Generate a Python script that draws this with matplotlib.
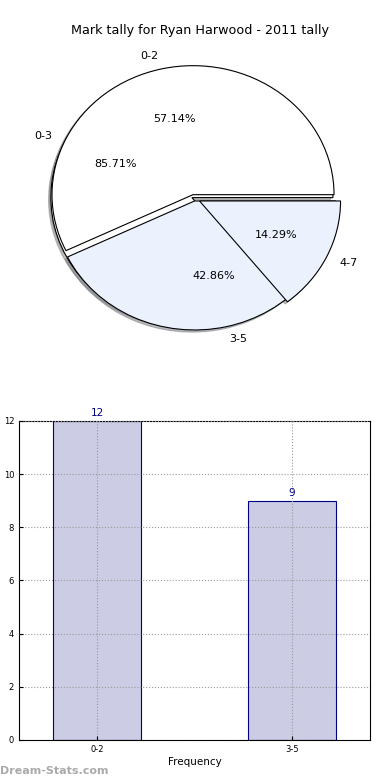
import matplotlib
matplotlib.use('Agg')
import matplotlib.pyplot as plt
import numpy as np

TITLE = 'Mark tally for Ryan Harwood - 2011 tally'

# first pie (drawn on top)
pie1_labels = ['0-2', '3-5']
pie1_sizes = [12, 9]

# second pie (drawn underneath)
pie2_labels = ['0-3', '4-7']
pie2_sizes = [6, 1]

# bar chart
bar_labels = ['0-2', '3-5']
bar_values = [12, 9]

WHITE = '#ffffff'
BLUE = '#ebf1fd'

fig = plt.figure(figsize=(3.9, 7.8), dpi=100)

ax1 = fig.add_axes([0.0596, 0.5356, 0.904, 0.4135])
ax1.set_title(TITLE, fontsize=9.2, pad=4)

wedge_kw = {'linewidth': 0.8, 'edgecolor': 'black'}
shadow_kw = {'ox': -0.012, 'oy': -0.012, 'shade': 0.5}

w2, t2, p2 = ax1.pie(pie2_sizes, labels=pie2_labels, colors=[WHITE, BLUE],
                     explode=(0.06, 0), shadow=shadow_kw, autopct='%.2f%%',
                     wedgeprops=wedge_kw, textprops={'fontsize': 8})
w1, t1, p1 = ax1.pie(pie1_sizes, labels=pie1_labels, colors=[WHITE, BLUE],
                     explode=(0.05, 0), shadow=shadow_kw, autopct='%.2f%%',
                     center=(-0.035, 0), frame=False,
                     wedgeprops=wedge_kw, textprops={'fontsize': 8})
w2[1].set_zorder(1.1)

ax1.set_aspect('auto')
ax1.set_xlim(-1.25, 1.25)
ax1.set_ylim(-1.25, 1.25)
ax1.set_xticks([])
ax1.set_yticks([])
ax1.set_frame_on(False)

ax2 = fig.add_axes([0.0487, 0.0513, 0.9, 0.409])
x = np.arange(len(bar_values))
bars = ax2.bar(x, bar_values, width=0.45, color='#ccccE5', edgecolor='#000080',
               linewidth=0.8, zorder=2)
for xi, v in zip(x, bar_values):
    ax2.text(xi, v + 0.12, str(v), ha='center', va='bottom', color='#000080', fontsize=7.5)

ax2.set_xlim(-0.4, 1.4)
ax2.set_ylim(0, 12)
ax2.set_yticks(range(0, 13, 2))
ax2.set_xticks(x)
ax2.set_xticklabels(bar_labels)
ax2.tick_params(labelsize=6, length=3, direction='in')
ax2.grid(True, linestyle=':', color='#999999', linewidth=0.8, zorder=3)
ax2.set_axisbelow(False)
ax2.set_xlabel('Frequency', fontsize=7.5, labelpad=2)
ax2.set_ylabel('Student Marks', fontsize=7.5, labelpad=2)

fig.text(0.0, 0.005, 'Dream-Stats.com', fontsize=8, color='#aaaaaa',
         fontweight='bold', ha='left', va='bottom')

fig.savefig('out.png', dpi=100)
